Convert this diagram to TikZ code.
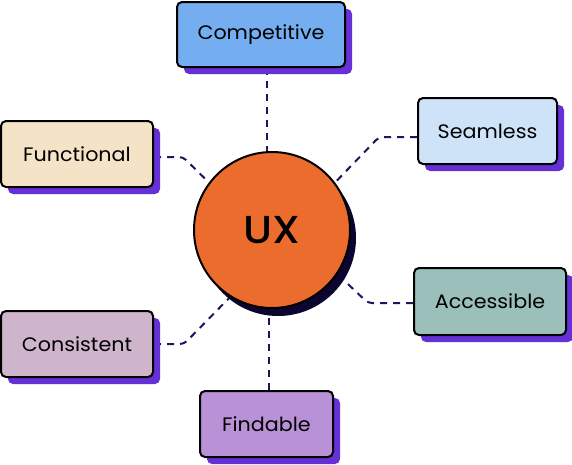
\documentclass[tikz,border=0pt]{standalone}
\usepackage{fontspec}
\setmainfont{Poppins}[FakeStretch=1.06]
\newfontfamily\uxfont{Poppins}[UprightFont=*-Medium,FakeStretch=1.08]
\usetikzlibrary{shadows,backgrounds}
\definecolor{shadowpurple}{HTML}{6530D6}
\definecolor{uxorange}{HTML}{EC6C2E}
\definecolor{uxshadow}{HTML}{0B0530}
\definecolor{conncol}{HTML}{22145A}
\definecolor{ccomp}{HTML}{74AEF0}
\definecolor{cfunc}{HTML}{F5E3C8}
\definecolor{cseam}{HTML}{CFE3F8}
\definecolor{cacc}{HTML}{9BBFBB}
\definecolor{ccons}{HTML}{CFB5CC}
\definecolor{cfind}{HTML}{B891D6}
\begin{document}
\begin{tikzpicture}[x=1pt,y=-1pt,
  qualbox/.style={draw=black, line width=2pt, rounded corners=5pt, inner sep=0pt,
    font=\fontsize{19.5}{22}\selectfont, text=black,
    general shadow={fill=shadowpurple, shadow xshift=7pt, shadow yshift=-7pt}},
  conn/.style={draw=conncol, line width=2pt, dash pattern=on 7pt off 6pt, rounded corners=4pt}]
\useasboundingbox (0,0) rectangle (572,464);
\node[qualbox, fill=ccomp, minimum width=168pt, minimum height=65pt] (comp) at (261,34.5) {Competitive};
\node[qualbox, fill=cfunc, minimum width=152pt, minimum height=66pt] (func) at (77,154) {Functional};
\node[qualbox, fill=cseam, minimum width=139pt, minimum height=66pt] (seam) at (487.5,131) {Seamless};
\node[qualbox, fill=cacc, minimum width=152pt, minimum height=67pt] (acc) at (490,301.5) {Accessible};
\node[qualbox, fill=ccons, minimum width=152pt, minimum height=66pt] (cons) at (77,344) {Consistent};
\node[qualbox, fill=cfind, minimum width=133pt, minimum height=66pt] (find) at (266.5,424) {Findable};
\node[circle, draw=black, line width=2pt, fill=uxorange, minimum size=156pt, inner sep=0pt,
  font=\uxfont\fontsize{39}{44}\selectfont, text=black,
  general shadow={fill=uxshadow, shadow xshift=6pt, shadow yshift=-8pt}] (ux) at (272,230) {UX};
\begin{scope}[on background layer]
\draw[conn] ([xshift=6pt]comp.south) -- ([xshift=6pt]comp.south |- ux.north);
\draw[conn] ([yshift=-3pt]func.east) -- ++(29,0) -- (ux.143);
\draw[conn] ([yshift=-6pt]seam.west) -- ++(-38,0) -- (ux.37);
\draw[conn] ([yshift=-1.5pt]acc.west) -- ++(-45,0) -- (ux.-34);
\draw[conn] (cons.east) -- ++(30,0) -- (ux.238);
\draw[conn] ([xshift=2.5pt]find.north) -- ([xshift=2.5pt]find.north |- ux.south);
\end{scope}
\end{tikzpicture}
\end{document}
